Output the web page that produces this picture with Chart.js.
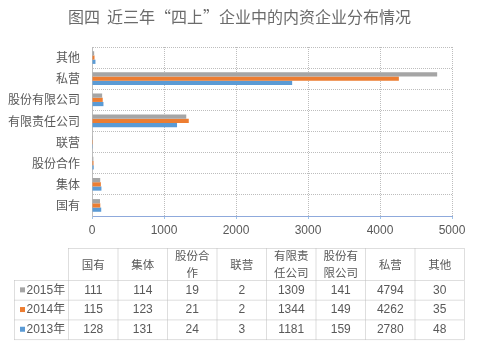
<!DOCTYPE html>
<html><head><meta charset="utf-8">
<script src="https://cdn.jsdelivr.net/npm/chart.js@4/dist/chart.umd.min.js"></script>
<style>html,body{margin:0;padding:0;background:#fff;}#wrap{width:479px;height:355px;}</style>
</head><body><div id="wrap"><canvas id="c" width="479" height="355"></canvas></div>
<script>
const titleText = '图四  近三年“四上”企业中的内资企业分布情况';
const categories = ['国有','集体','股份合作','联营','有限责任公司','股份有限公司','私营','其他'];
const seriesNames = ['2015年','2014年','2013年'];
const s2015 = [111,114,19,2,1309,141,4794,30];
const s2014 = [115,123,21,2,1344,149,4262,35];
const s2013 = [128,131,24,3,1181,159,2780,48];
const xTicks = [0,1000,2000,3000,4000,5000];
const colors = ['#A5A5A5','#ED7D31','#5B9BD5'];

const seriesValues = [s2015, s2014, s2013];
const rev = a => a.slice().reverse();
const FONT = '"Liberation Sans","Noto Sans CJK SC",sans-serif';
const CJK = '"Noto Sans CJK SC",sans-serif';
const TXT = '#595959';
const GRID = '#bdbdbd';

const titlePlugin = {
  id: 'centeredTitle',
  afterDraw(chart) {
    const ctx = chart.ctx;
    ctx.save();
    ctx.fillStyle = '#6b6b6b';
    ctx.font = '16px ' + CJK;
    ctx.textAlign = 'center';
    ctx.textBaseline = 'middle';
    ctx.fillText(titleText, chart.width / 2, 17);
    ctx.restore();
  }
};

const tablePlugin = {
  id: 'dataTable',
  afterDraw(chart) {
    const ctx = chart.ctx;
    const x0 = 14.5, xc = 68.5, colW = 49.5;
    const yTop = 248.5, yHead = 280.5, rowH = 19.7;
    const nCols = categories.length;
    const xEnd = xc + colW * nCols;
    const yEnd = yHead + rowH * seriesNames.length;
    ctx.save();
    ctx.strokeStyle = GRID;
    ctx.lineWidth = 1;
    ctx.setLineDash([1,1]);
    const line = (a,b,c,d) => { ctx.beginPath(); ctx.moveTo(a,b); ctx.lineTo(c,d); ctx.stroke(); };
    line(xc, yTop, xEnd, yTop);
    for (let r = 0; r <= seriesNames.length; r++) line(x0, yHead + r*rowH, xEnd, yHead + r*rowH);
    line(x0, yHead, x0, yEnd);
    for (let c = 0; c <= nCols; c++) line(xc + c*colW, yTop, xc + c*colW, yEnd);
    ctx.setLineDash([]);
    ctx.fillStyle = TXT;
    ctx.textAlign = 'center';
    ctx.textBaseline = 'middle';
    ctx.font = '11.5px ' + CJK;
    categories.forEach((cat, i) => {
      const parts = cat.length > 3 ? [cat.slice(0,3), cat.slice(3)] : [cat];
      const cx = xc + colW*(i+0.5);
      const cy = (yTop + yHead)/2;
      if (parts.length === 1) ctx.fillText(parts[0], cx, cy);
      else { ctx.fillText(parts[0], cx, cy - 8.5); ctx.fillText(parts[1], cx, cy + 8); }
    });
    ctx.font = '12px ' + FONT;
    seriesNames.forEach((name, r) => {
      const cy = yHead + rowH*(r+0.5);
      ctx.fillStyle = colors[r];
      ctx.fillRect(20, cy - 3, 5, 5);
      ctx.fillStyle = TXT;
      ctx.textAlign = 'left';
      ctx.fillText(name, 26.5, cy);
      ctx.textAlign = 'center';
      seriesValues[r].forEach((v, i) => ctx.fillText(String(v), xc + colW*(i+0.5), cy));
    });
    ctx.restore();
  }
};

new Chart(document.getElementById('c'), {
  type: 'bar',
  data: {
    labels: rev(categories),
    datasets: seriesNames.map((n, i) => ({
      label: n,
      data: rev(seriesValues[i]),
      backgroundColor: colors[i],
      borderWidth: 0,
      categoryPercentage: 0.6,
      barPercentage: 1.0
    }))
  },
  options: {
    indexAxis: 'y',
    responsive: false,
    devicePixelRatio: 1,
    animation: false,
    layout: { padding: { left: 0, right: 27, top: 47, bottom: 119 } },
    plugins: {
      legend: { display: false },
      tooltip: { enabled: false },
      title: { display: false }
    },
    scales: {
      x: {
        min: 0, max: 5000,
        afterBuildTicks: s => { s.ticks = xTicks.map(v => ({ value: v })); },
        afterFit: s => { s.height = 20; },
        ticks: { color: TXT, font: { family: FONT, size: 12 }, padding: 4, callback: v => String(v) },
        grid: { color: GRID, tickLength: 3, drawTicks: true, tickColor: '#9fc3e8' },
        border: { color: '#8faadc', dash: [1,1] }
      },
      y: {
        afterFit: s => { s.width = 92; },
        ticks: { color: TXT, font: { family: CJK, size: 12 }, padding: 12 },
        grid: { color: GRID, offset: true, drawTicks: false },
        border: { color: GRID, dash: [1,1] }
      }
    }
  },
  plugins: [titlePlugin, tablePlugin]
});
</script>
</body></html>
